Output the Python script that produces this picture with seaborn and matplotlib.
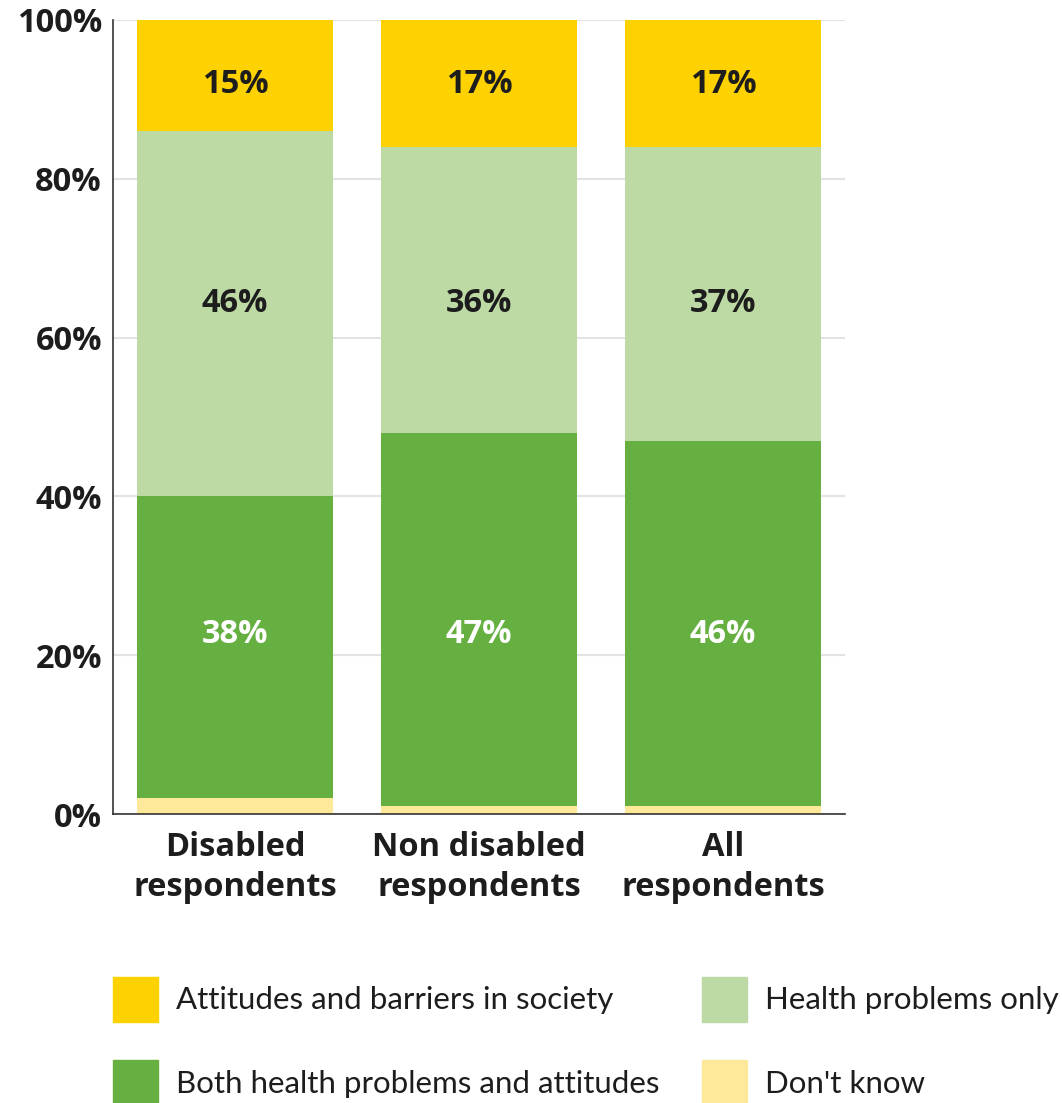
import numpy as np
import pandas as pd
import matplotlib.pyplot as plt
import seaborn as sns
from matplotlib.patches import Patch

# chart data
categories = ["Disabled\nrespondents", "Non disabled\nrespondents", "All\nrespondents"]
dont_know = [2, 1, 1]
both = [38, 47, 46]
health_only = [46, 36, 37]
attitudes = [15, 17, 17]

series_names = ["Don't know", "Both health problems and attitudes",
                "Health problems only", "Attitudes and barriers in society"]
series_values = [dont_know, both, health_only, attitudes]
colors = ["#FEE89A", "#66B042", "#BDDAA5", "#FDD200"]
label_colors = [None, "white", "#1d1d1d", "#1d1d1d"]

sns.set_theme(style="white")
plt.rcParams["font.family"] = ["Open Sans", "DejaVu Sans"]

fig = plt.figure(figsize=(10.62, 11.03), dpi=100)
ax = fig.add_axes([0.1064, 0.262, 0.6893, 0.7199])

df = pd.DataFrame({"category": categories})
bottom = np.zeros(len(categories))
for name, vals, col, lc in zip(series_names, series_values, colors, label_colors):
    vals = np.array(vals, dtype=float)
    sns.barplot(x=df["category"], y=vals, bottom=bottom, color=col, width=0.8,
                saturation=1, linewidth=0, edgecolor="none", ax=ax, zorder=2)
    if lc is not None:
        # labels sit at the mean centre of the visible segments
        tops = np.minimum(bottom + vals, 100)
        ypos = np.mean((bottom + tops) / 2)
        for i, v in enumerate(vals):
            ax.text(i, ypos, f"{int(v)}%", ha="center", va="center_baseline",
                    color=lc, fontsize=23.5, fontweight="bold")
    bottom = bottom + vals

ax.set_ylim(0, 100)
ax.set_xlim(-0.5, 2.5)
ax.set_yticks([0, 20, 40, 60, 80, 100])
ax.set_yticklabels([f"{t}%" for t in [0, 20, 40, 60, 80, 100]])
ax.yaxis.grid(True, color="#e3e3e3", linewidth=1.5, zorder=0)
ax.set_axisbelow(True)
ax.set_xlabel("")
ax.set_ylabel("")
ax.tick_params(axis="both", length=0, labelsize=23.5, colors="#1d1d1d")
ax.tick_params(axis="y", pad=8)
ax.tick_params(axis="x", pad=12)
for lab in ax.get_xticklabels() + ax.get_yticklabels():
    lab.set_fontweight("bold")
    lab.set_linespacing(1.3)
for s in ["top", "right"]:
    ax.spines[s].set_visible(False)
for s in ["left", "bottom"]:
    ax.spines[s].set_color("#333333")
    ax.spines[s].set_linewidth(1.2)

handles = [Patch(color=colors[3], label=series_names[3]),
           Patch(color=colors[1], label=series_names[1]),
           Patch(color=colors[2], label=series_names[2]),
           Patch(color=colors[0], label=series_names[0])]
leg = fig.legend(handles=handles, ncol=2, loc="lower left",
                 bbox_to_anchor=(0.1064, -0.0018), frameon=False,
                 prop={"family": ["Lato", "DejaVu Sans"], "size": 22.5},
                 handlelength=1.44, handleheight=1.84, handletextpad=0.58,
                 columnspacing=1.35, labelspacing=1.22, borderpad=0,
                 borderaxespad=0, labelcolor="#1d1d1d")

fig.savefig("out.png", dpi=100)
